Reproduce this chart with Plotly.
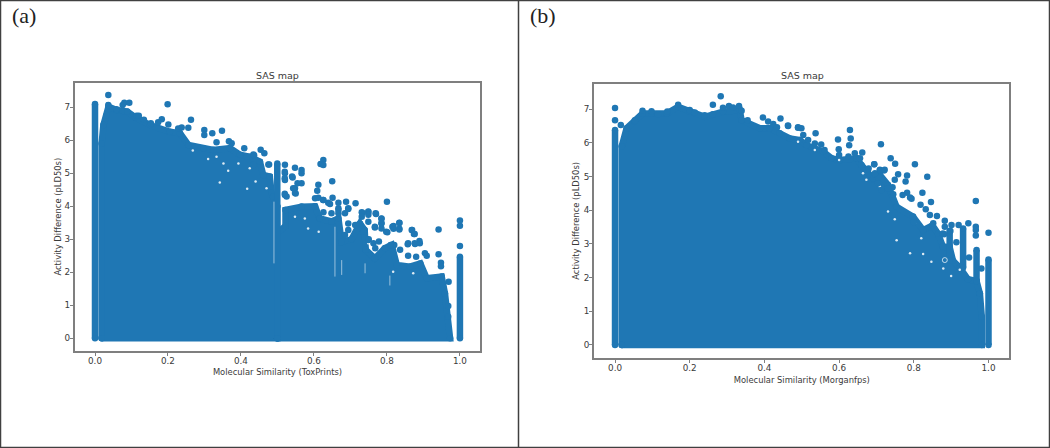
import plotly.graph_objects as go

BLUE = "#1f77b4"

# ---------- panel (a): ToxPrints ----------
a_column_0_x = [0, 0]
a_column_0_y = [0, 7.1]
a_column_half_x = [0.4995, 0.4995]
a_column_half_y = [0, 5.3]
a_column_1_x = [1, 1, 1, 1, 1]
a_column_1_y = [0, 2.47, 2.8, 3.41, 3.57]

a_left_x = [0.0182, 0.0182, 0.023, 0.032, 0.037, 0.059, 0.0885, 0.11, 0.151, 0.205, 0.233, 0.256, 0.297,
            0.324, 0.37, 0.397, 0.425, 0.452, 0.461, 0.479, 0.484, 0.488, 0.4995, 0.4995, 0.0182]
a_left_y = [0, 5.9, 6.46, 6.77, 7.02, 6.92, 6.87, 6.70, 6.46, 6.26, 6.21, 5.86, 5.76,
            5.71, 5.76, 5.56, 5.5, 5.35, 4.95, 4.9, 4.4, 4.29, 4.0, 0, 0]
a_right_x = [0.4995, 0.4995, 0.522, 0.522, 0.566, 0.603, 0.616, 0.648, 0.667, 0.676, 0.703, 0.726, 0.739, 0.742,
             0.767, 0.794, 0.813, 0.827, 0.863, 0.8916, 0.909, 0.95, 0.959, 0.968, 0.973, 0.4995]
a_right_y = [0, 3.2, 3.4, 3.89, 3.99, 4.0, 3.63, 3.54, 3.63, 2.92, 3.0, 3.48, 3.28, 2.68,
             2.42, 2.73, 2.83, 2.22, 2.17, 2.27, 1.82, 1.87, 1.36, 0.65, 0, 0]

a_points_x = [.0365, .0365, .0804, .094, .0758, .059, .199, .183, .173, .201, .263, .228, .2375, .2557, .2995,
              .2995, .3214, .348, .333, .367, .3745, .409, .454, .464, .475, .114, .12, .134, .153, .434, .416,
              .436, .477, .5205, .548, .566, .566, .5416, .5205, .5205, .6256, .618, .6256, .65, .612, .609,
              .566, .548, .548, .5205, .525, .603, .612, .625, .639, .651, .667, .688, .714, .8, .667, .694,
              .733, .749, .77, .785, .785, .834, .818, .818, .834, .767, .785, .801, .868, .874, .9415, .857,
              .877, .89, .889, .82, .75, .904, .909, .88, .9415, .948, .948, .969, .968, .717,
              .434, .52, .54, .555, .543, .52, .55, .52, .626, .644, .667, .667, .694, .685, .626, .648,
              .731, .731, .749, .749, .749, .769, .785, .785, .767, .798, .815, .834, .834, .869, .876,
              .81, .858, .876, .836, .858, .749, .763, .778, .768, .694, .694, .685, .713, .735]
a_points_y = [7.37, 7.07, 7.14, 7.14, 7.07, 6.94, 7.09, 6.64, 6.55, 6.48, 6.62, 6.36, 6.39, 6.38, 6.31,
              6.16, 6.21, 6.29, 5.94, 5.97, 5.91, 5.76, 5.71, 5.61, 5.27, 6.74, 6.74, 6.62, 6.52, 5.25, 5.5,
              5.55, 5.27, 5.26, 5.17, 5.1, 5.0, 4.87, 5.0, 4.8, 5.4, 5.28, 5.25, 4.76, 4.65, 4.47,
              4.70, 4.55, 4.4, 4.34, 4.3, 4.24, 4.26, 4.19, 4.11, 4.26, 4.11, 4.14, 4.09, 4.14, 3.94, 3.92,
              3.8, 3.83, 3.77, 3.62, 3.49, 3.49, 3.4, 3.32, 3.32, 3.36, 3.33, 3.21, 3.28, 3.16, 3.3, 2.85,
              2.86, 2.88, 2.95, 2.83, 3.0, 2.58, 2.5, 2.47, 2.55, 2.29, 2.18, 1.71, 0.98, 3.43,
              5.57, 5.05, 4.9, 4.7, 4.55, 4.85, 4.39, 4.38, 4.19, 4.07, 3.89, 3.79, 3.94, 3.79, 3.82, 3.79,
              3.82, 3.68, 3.84, 3.74, 3.53, 3.79, 3.63, 3.48, 3.38, 3.23, 3.38, 3.5, 3.3, 3.28, 3.16,
              2.83, 2.88, 2.88, 2.68, 2.5, 2.98, 2.88, 2.93, 2.73, 3.48, 3.28, 3.13, 3.43, 3.23]
a_slit_x = [.4904, .4904, None, .6575, .6575, None, .676, .676, None, .74, .74, None, .808, .808]
a_slit_y = [4.14, 2.27, None, 3.38, 1.87, None, 2.37, 1.92, None, 2.27, 1.97, None, 1.9, 1.6]
a_holes_x = [.268, .31, .333, .352, .365, .393, .424, .44, .417, .47, .342, .584, .613, .548, .575, .817, .872, .749]
a_holes_y = [5.69, 5.43, 5.5, 5.3, 5.08, 5.3, 5.15, 4.75, 4.53, 4.55, 4.72, 3.33, 3.23, 3.68, 3.63, 2.02, 1.97, 2.88]

# ---------- panel (b): Morganfps ----------
b_column_0_x = [0, 0, 0, 0]
b_column_0_y = [0, 6.38, 6.67, 7.03]
b_column_1_x = [1, 1, 1]
b_column_1_y = [0, 2.54, 3.33]

b_mass_x = [0.018, 0.018, 0.031, 0.053, 0.0736, 0.0977, 0.138, 0.169, 0.2, 0.24, 0.289, 0.334, 0.339, 0.388, 0.414,
            0.441, 0.468, 0.495, 0.513, 0.557, 0.58, 0.602, 0.647, 0.66, 0.691, 0.709, 0.731, 0.754, 0.798, 0.825,
            0.85, 0.865, 0.878, 0.896, 0.905, 0.923, 0.945, 0.968, 0.977, 0.982, 0.982, 0.018]
b_mass_y = [0, 5.9, 6.43, 6.63, 6.87, 6.87, 6.87, 7.07, 6.92, 6.77, 6.92, 6.97, 6.67, 6.43, 6.43,
            6.28, 6.13, 6.08, 5.93, 5.74, 5.54, 5.49, 5.54, 5.34, 4.94, 5.05, 4.75, 4.1, 3.81, 3.41,
            3.55, 3.3, 2.92, 2.9, 2.5, 2.3, 1.95, 1.9, 1.53, 0.84, 0, 0]
b_spike_x = [.896, .896, None, .932, .932, None, .968, .968]
b_spike_y = [2.5, 3.39, None, 2.3, 3.46, None, 1.9, 2.82]

b_points_x = [.283, .262, .289, .305, .316, .332, .339, .169, .0736, .0977, .115, .14, .2, .2137, .24, .262, .355,
              .396, .41, .4236, .443, .4635, .49, .0155, .053, .629, .631, .627, .537, .597, .712, .738, .75, .803,
              .694, .758, .782, .836, .749, .778, .709, .72, .696, .705, .743, .745, .782, .823, .794, .846, .966,
              .818, .832, .883, .883, .901, .92, .946, .966, .966, .966, .881, .898, .914, .948,
              .4336, .463, .49, .499, .504, .517, .535, .552, .561, .599, .6, .625, .642, .662, .656, .679, .694,
              .696, .709, .722, .704, .713, .731, .77, .79, .843, .862, .8, .852, .878, .981]
b_points_y = [7.38, 7.13, 7.04, 7.09, 7.05, 7.09, 6.95, 7.13, 6.95, 6.94, 6.85, 6.93, 6.97, 6.9, 6.82, 6.85, 6.67,
              6.75, 6.63, 6.56, 6.72, 6.5, 6.45, 6.53, 6.67, 6.38, 6.13, 5.93, 6.28, 6.1, 5.96, 5.54, 5.38, 5.36,
              5.36, 5.07, 5.03, 4.99, 4.9, 4.85, 5.18, 5.18, 5.05, 4.98, 4.68, 4.47, 4.52, 4.52, 4.34, 4.24, 4.27,
              4.16, 4.03, 3.69, 3.51, 3.56, 3.56, 3.61, 3.51, 3.41, 3.25, 3.29, 3.38, 3.05, 2.6,
              6.46, 6.51, 6.46, 6.43, 6.23, 6.08, 5.98, 5.95, 5.79, 5.81, 5.64, 5.59, 5.69, 5.71, 5.54, 5.24, 5.36,
              5.1, 5.2, 5.2, 4.8, 4.6, 4.65, 4.45, 4.38, 3.86, 3.83, 3.64, 3.61, 3.31, 2.27]
b_holes_x = [.49, .535, .6, .664, .673, .709, .731, .749, .803, .82, .754, .79, .825, .879, .923, .9, .847]
b_holes_y = [6.03, 5.79, 5.49, 5.1, 4.9, 4.7, 3.96, 3.73, 3.61, 3.17, 3.11, 2.72, 2.7, 2.27, 2.23, 2.05, 2.47]
b_hollow_x = [.883]
b_hollow_y = [2.52]

# ---------- text ----------
panel_labels = ["(a)", "(b)"]
chart_title = "SAS map"
y_label = "Activity Difference (pLD50s)"
x_labels = ["Molecular Similarity (ToxPrints)", "Molecular Similarity (Morganfps)"]
x_ticks = [0, 0.2, 0.4, 0.6, 0.8, 1.0]
x_tick_text = ["0.0", "0.2", "0.4", "0.6", "0.8", "1.0"]
y_ticks = [0, 1, 2, 3, 4, 5, 6, 7]

W, H = 1050, 448
TEXT = "#3a3a3a"
SPINE = "#7f7f7f"
MS = 6.5


def solid(x, y, xa, ya, closed=False):
    return go.Scatter(x=x, y=y, xaxis=xa, yaxis=ya, mode="lines+markers",
                      fill="toself" if closed else None, fillcolor=BLUE,
                      line=dict(color=BLUE, width=MS), marker=dict(color=BLUE, size=MS),
                      hoverinfo="skip", showlegend=False)


def dots(x, y, xa, ya):
    return go.Scatter(x=x, y=y, xaxis=xa, yaxis=ya, mode="markers",
                      marker=dict(color=BLUE, size=MS), hoverinfo="skip", showlegend=False)


def holes(x, y, xa, ya):
    return go.Scatter(x=x, y=y, xaxis=xa, yaxis=ya, mode="markers",
                      marker=dict(color="rgba(255,255,255,0.85)", size=2.5), hoverinfo="skip", showlegend=False)


fig = go.Figure()
for tr in [solid(a_left_x, a_left_y, "x", "y", True),
           solid(a_right_x, a_right_y, "x", "y", True),
           solid(a_column_0_x, a_column_0_y, "x", "y"),
           solid(a_column_half_x, a_column_half_y, "x", "y"),
           solid(a_column_1_x[:2], a_column_1_y[:2], "x", "y"),
           dots(a_column_1_x[2:], a_column_1_y[2:], "x", "y"),
           holes(a_holes_x, a_holes_y, "x", "y"),
           go.Scatter(x=a_slit_x, y=a_slit_y, xaxis="x", yaxis="y", mode="lines",
                      line=dict(color="rgba(255,255,255,0.55)", width=1), hoverinfo="skip", showlegend=False),
           dots(a_points_x, a_points_y, "x", "y"),
           solid(b_mass_x, b_mass_y, "x2", "y2", True),
           solid(b_spike_x, b_spike_y, "x2", "y2"),
           solid(b_column_0_x[:2], b_column_0_y[:2], "x2", "y2"),
           dots(b_column_0_x[2:], b_column_0_y[2:], "x2", "y2"),
           solid(b_column_1_x[:2], b_column_1_y[:2], "x2", "y2"),
           dots(b_column_1_x[2:], b_column_1_y[2:], "x2", "y2"),
           holes(b_holes_x, b_holes_y, "x2", "y2"),
           dots(b_points_x, b_points_y, "x2", "y2"),
           go.Scatter(x=b_hollow_x, y=b_hollow_y, xaxis="x2", yaxis="y2", mode="markers",
                      marker=dict(symbol="circle-open", color="rgba(255,255,255,0.7)", size=5, line=dict(width=1)),
                      hoverinfo="skip", showlegend=False)]:
    fig.add_trace(tr)

FS = 8.4
axis_common = dict(showgrid=False, zeroline=False, showline=True, mirror=True, linecolor=SPINE, linewidth=1.5,
                   ticks="outside", ticklen=3.5, tickwidth=1, tickcolor=SPINE,
                   tickfont=dict(family="DejaVu Sans", size=FS + 0.4, color=TEXT))
title_font = dict(family="DejaVu Sans", size=FS, color=TEXT)

fig.update_layout(
    width=W, height=H, margin=dict(l=0, r=0, t=0, b=0), autosize=False,
    plot_bgcolor="white", paper_bgcolor="white", showlegend=False,
    xaxis=dict(domain=[75 / W, 480 / W], range=[-0.0548, 1.055], tickvals=x_ticks, ticktext=x_tick_text,
               ticklabelstandoff=-3,
               title=dict(text=x_labels[0], font=title_font, standoff=5), anchor="y", **axis_common),
    yaxis=dict(domain=[1 - 350.7 / H, 1 - 82.7 / H], range=[-0.376, 7.745], tickvals=y_ticks,
               ticklabelstandoff=-2,
               title=dict(text=y_label, font=title_font, standoff=1), anchor="x", **axis_common),
    xaxis2=dict(domain=[594.3 / W, 1009.3 / W], range=[-0.0555, 1.0557], tickvals=x_ticks, ticktext=x_tick_text,
                ticklabelstandoff=-3,
                title=dict(text=x_labels[1], font=title_font, standoff=5), anchor="y2", **axis_common),
    yaxis2=dict(domain=[1 - 358 / H, 1 - 83.7 / H], range=[-0.386, 7.754], tickvals=y_ticks,
                ticklabelstandoff=-2,
                title=dict(text=y_label, font=title_font, standoff=3), anchor="x2", **axis_common),
    shapes=[
        dict(type="rect", xref="paper", yref="paper", x0=0.5 / W, x1=1 - 0.5 / W, y0=0.5 / H, y1=1 - 0.5 / H,
             line=dict(color="#404040", width=1.5)),
        dict(type="line", xref="paper", yref="paper", x0=518.5 / W, x1=518.5 / W, y0=0, y1=1,
             line=dict(color="#404040", width=1.5)),
    ],
    annotations=[
        dict(text=panel_labels[0], xref="paper", yref="paper", x=10 / W, y=1 - 16 / H, xanchor="left", yanchor="middle",
             showarrow=False, font=dict(family="Liberation Serif", size=22, color="#222222")),
        dict(text=panel_labels[1], xref="paper", yref="paper", x=528 / W, y=1 - 15 / H, xanchor="left", yanchor="middle",
             showarrow=False, font=dict(family="Liberation Serif", size=22, color="#222222")),
        dict(text=chart_title, xref="paper", yref="paper", x=277.5 / W, y=1 - 75.5 / H, xanchor="center", yanchor="middle",
             showarrow=False, font=dict(family="DejaVu Sans", size=9.5, color=TEXT)),
        dict(text=chart_title, xref="paper", yref="paper", x=802 / W, y=1 - 75.5 / H, xanchor="center", yanchor="middle",
             showarrow=False, font=dict(family="DejaVu Sans", size=9.5, color=TEXT)),
    ],
)

fig.write_html("out.html", config=dict(displayModeBar=False),
               post_script="document.body.style.margin='0';document.body.style.overflow='hidden';")
